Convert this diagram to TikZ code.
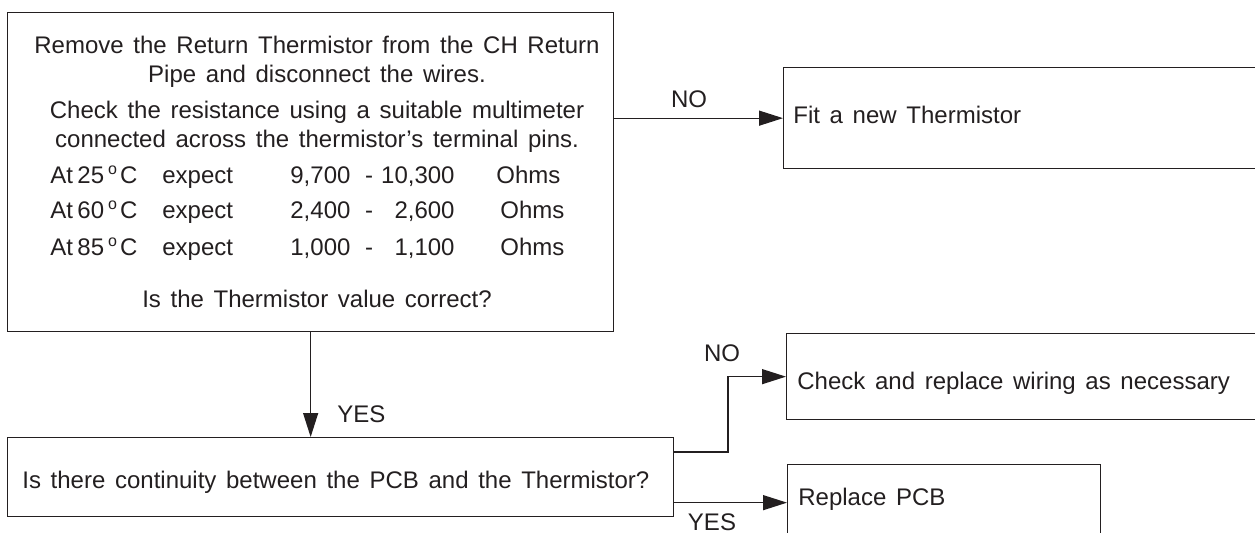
\documentclass[tikz,border=0pt]{standalone}
\usepackage{fontspec}
\setmainfont{Liberation Sans}[WordSpace=1.45]
\usetikzlibrary{arrows.meta,calc}
\definecolor{ink}{HTML}{231F20}
\tikzset{
  >={Triangle[length=12pt,width=7.5pt]},
  % boxes
  box/.style={draw=ink,line width=0.65pt,anchor=north west,inner sep=0pt},
  % texts
  txt/.style={text=ink,inner sep=0pt,font=\fontsize{12}{14}\selectfont},
  line/.style={txt,anchor=base},
  lft/.style={txt,anchor=base west},
  rgt/.style={txt,anchor=base east},
  % arrows
  flow/.style={->,draw=ink,line width=0.65pt},
}

\begin{document}
\begin{tikzpicture}[x=0.5pt,y=-0.5pt]
\useasboundingbox (0,0) rectangle (1255,532);
  \node[box,minimum width=303pt,minimum height=159.5pt] (check) at (7,12) {};
  \node[box,minimum width=239.5pt,minimum height=50.5pt] (fitnew) at (783,67) {};
  \node[box,minimum width=333pt,minimum height=39.5pt] (contin) at (7,437) {};
  \node[box,minimum width=238pt,minimum height=43pt] (wiring) at (786,333) {};
  \node[box,minimum width=156.5pt,minimum height=38pt] (pcb) at (787,464) {};
  % resistance check
  \node[line] (t-remove) at (317,53.5) {Remove the Return Thermistor from the CH Return};
  \node[line] (t-pipe) at (317,82.5) {Pipe and disconnect the wires.};
  \node[line] (t-check) at (317,118.5) {Check the resistance using a suitable multimeter};
  \node[line] (t-across) at (317,147.5) {connected across the thermistor's terminal pins.};
  \foreach \deg/\lo/\hi/\ohm/\y in {25/{9,700}/{10,300}/496/183.5,
      60/{2,400}/{2,600}/500/218.5, 85/{1,000}/{1,100}/500/255.5}{
    \node[lft] (at\deg) at (50,\y) {At\kern2.2pt\deg\kern2pt\textsuperscript{o}\kern1pt C};
    \node[lft] (exp\deg) at (162,\y) {expect};
    \node[lft] (lo\deg) at (290,\y) {\lo};
    \node[line] (dash\deg) at (369,\y) {-};
    \node[rgt] (hi\deg) at (455,\y) {\hi};
    \node[lft] (ohm\deg) at (\ohm,\y) {Ohms};
  }
  \node[line] (t-correct) at (317,307.5) {Is the Thermistor value correct?};
  % other boxes
  \node[lft] (t-fit) at (793,123.5) {Fit a new Thermistor};
  \node[lft] (t-contin) at (22,488.5) {Is there continuity between the PCB and the Thermistor?};
  \node[lft] (t-wiring) at (797,389.5) {Check and replace wiring as necessary};
  \node[lft] (t-pcb) at (798,505.5) {Replace PCB};
  % answers
  \node[line] (no1) at (689,107.5) {NO};
  \node[lft] (yes1) at (337,422.5) {YES};
  \node[line] (no2) at (722,361.5) {NO};
  \node[line] (yes2) at (712,530) {YES};
  \coordinate (knee) at (728,452);
  \draw[flow] (fitnew.west -| check.east) -- (fitnew.west);
  \draw[flow] (check.south) -- (check.south |- contin.north);
  \draw[flow] (knee -| contin.east) -- (knee) |- (wiring.west);
  \draw[flow] (pcb.west -| contin.east) -- (pcb.west);
\end{tikzpicture}
\end{document}
